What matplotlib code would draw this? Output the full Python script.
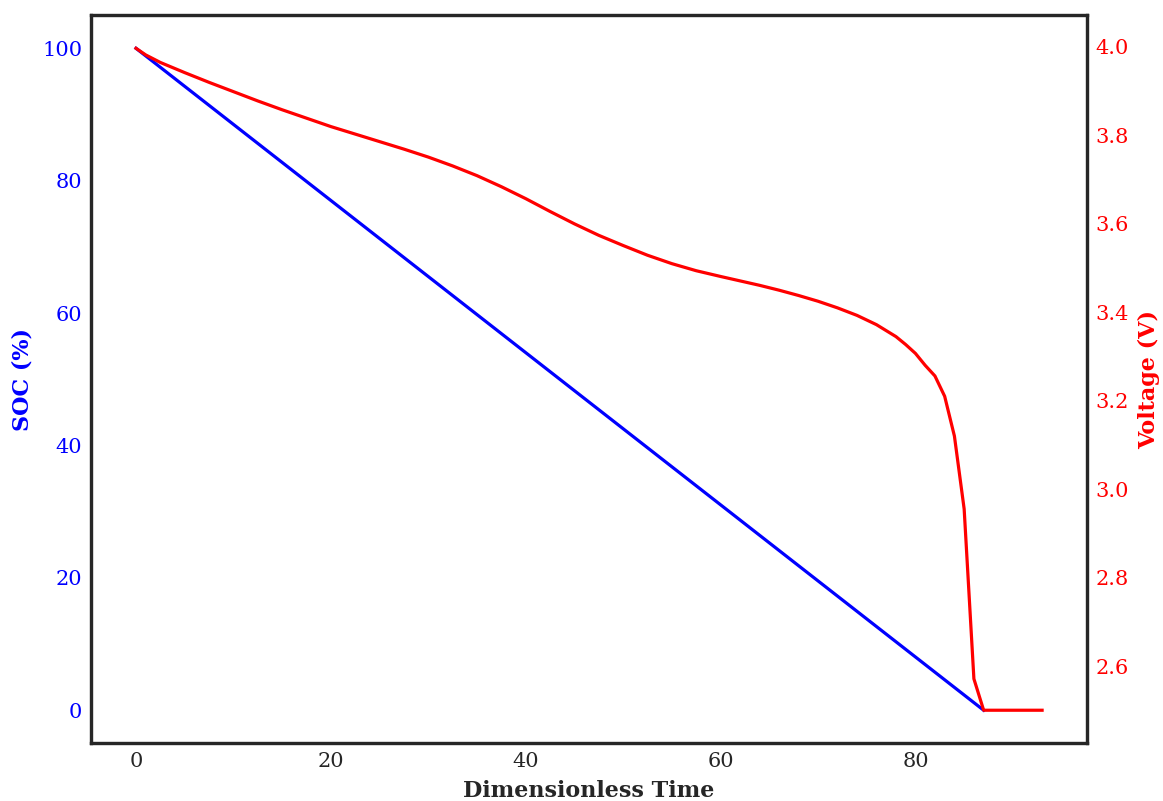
import numpy as np
from matplotlib import pyplot as plt

# SOC (linear discharge)
soc_time = [0, 87]
soc_values = [100, 0]

# Voltage curve
volt_time = [0, 1, 2.5, 5, 7.5, 10, 12.5, 15, 17.5, 20, 22.5, 25, 27.5, 30, 32.5, 35,
             37.5, 40, 42.5, 45, 47.5, 50, 52.5, 55, 57.5, 60, 62, 64, 66, 68, 70,
             72, 74, 76, 78, 79, 80, 81, 82, 83, 84, 85, 86, 87, 93]
volt_values = [3.997, 3.982, 3.965, 3.942, 3.92, 3.899, 3.878, 3.858, 3.839, 3.82,
               3.803, 3.786, 3.769, 3.751, 3.731, 3.709, 3.684, 3.657, 3.628, 3.600,
               3.574, 3.551, 3.529, 3.51, 3.494, 3.481, 3.471, 3.461, 3.45, 3.438,
               3.425, 3.41, 3.393, 3.372, 3.345, 3.327, 3.307, 3.28, 3.256, 3.21,
               3.12, 2.955, 2.571, 2.5, 2.5]

plt.rcParams['font.family'] = 'DejaVu Serif'
spine_color = '#262626'

fig, ax1 = plt.subplots(figsize=(11.63, 8.01), dpi=100)
fig.subplots_adjust(left=0.078, right=0.935, top=0.981, bottom=0.072)

ax1.plot(soc_time, soc_values, color='blue', linewidth=2.3)
ax1.set_xlabel('Dimensionless Time', fontsize=16, fontweight='bold', color=spine_color, labelpad=7)
ax1.set_ylabel('SOC (%)', fontsize=16, fontweight='bold', color='blue', labelpad=6)
ax1.set_yticks([0, 20, 40, 60, 80, 100])
ax1.set_xticks([0, 20, 40, 60, 80])
ax1.tick_params(axis='y', labelcolor='blue', labelsize=15, length=0, pad=6)
ax1.tick_params(axis='x', labelcolor=spine_color, labelsize=15, length=0, pad=6)

ax2 = ax1.twinx()
ax2.plot(volt_time, volt_values, color='red', linewidth=2.3)
ax2.set_ylabel('Voltage (V)', fontsize=16, fontweight='bold', color='red', labelpad=6)
ax2.set_yticks(np.arange(2.6, 4.01, 0.2))
ax2.tick_params(axis='y', labelcolor='red', labelsize=15, length=0, pad=6)

for ax in (ax1, ax2):
    for s in ax.spines.values():
        s.set_color(spine_color)
        s.set_linewidth(2.3)

plt.savefig('out.png', dpi=100)
